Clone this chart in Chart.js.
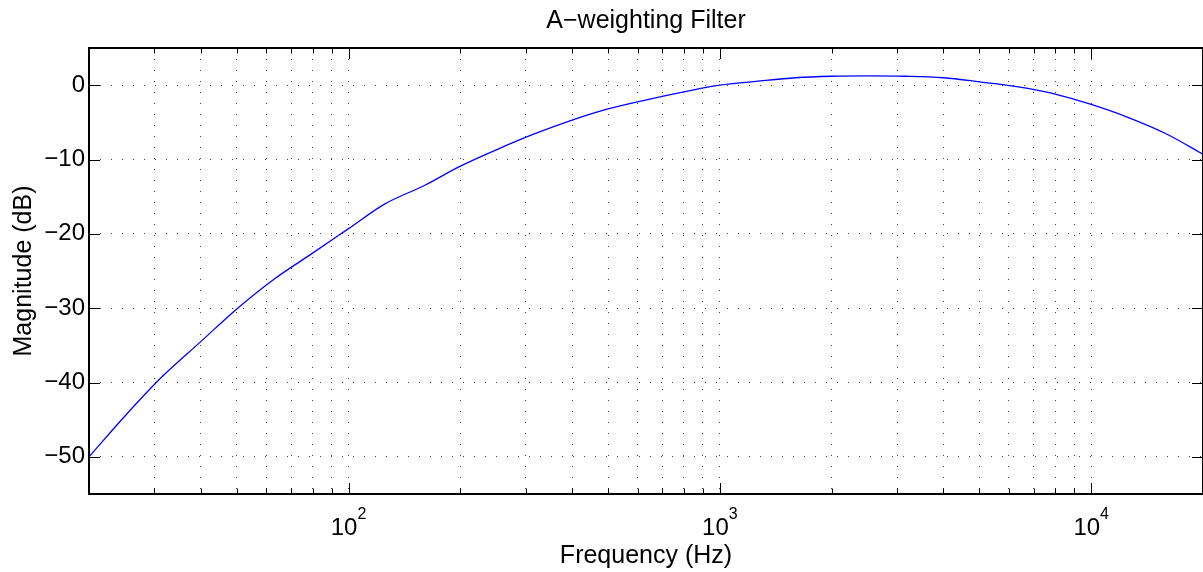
<!DOCTYPE html>
<html>
<head>
<meta charset="utf-8">
<script src="https://cdn.jsdelivr.net/npm/chart.js@4.4.1/dist/chart.umd.min.js"></script>
<style>
  html, body { margin: 0; padding: 0; background: #fff; }
  #wrap { width: 1203px; height: 572px; }
</style>
</head>
<body>
<div id="wrap"><canvas id="aw-chart" width="1203" height="572"></canvas></div>
<script>
// Frequencies (Hz) and magnitude (dB)
const freqs = [20, 25, 31.5, 40, 50, 63, 80, 100, 125, 160, 200, 250, 315, 400, 500, 630, 800,
               1000, 1250, 1600, 2000, 2500, 3150, 4000, 5000, 6300, 8000, 10000, 12500, 16000, 20000];
const magDb = [-50.0, -44.5, -39.2, -34.5, -30.1, -26.1, -22.6, -19.3, -16.0, -13.5, -10.9, -8.7, -6.6, -4.7, -3.2, -2.0, -0.9,
               0.0, 0.5, 1.0, 1.2, 1.25, 1.2, 1.0, 0.45, -0.2, -1.2, -2.6, -4.3, -6.6, -9.3];

// Axis ticks
const yTicks = [0, -10, -20, -30, -40, -50];
const xGridTicks = [20, 30, 40, 50, 60, 70, 80, 90,
                    100, 200, 300, 400, 500, 600, 700, 800, 900,
                    1000, 2000, 3000, 4000, 5000, 6000, 7000, 8000, 9000, 10000];
const xLabelTicks = [100, 1000, 10000];
const xLabelExps = ['2', '3', '4'];

const FONT = "'Liberation Sans', Arial, Helvetica, sans-serif";
Chart.defaults.font.family = FONT;
Chart.defaults.color = '#000';

// Draws the box, the inward tick marks and the 10^n labels (MATLAB look)
const axesBox = {
    id: 'axesBox',
    afterDraw(chart) {
        const ctx = chart.ctx;
        const area = chart.chartArea;
        const xs = chart.scales.x;
        const ys = chart.scales.y;
        ctx.save();

        // inward ticks
        ctx.strokeStyle = '#000';
        ctx.lineWidth = 1;
        ctx.beginPath();
        yTicks.forEach(v => {
            const py = Math.round(ys.getPixelForValue(v)) + 0.5;
            ctx.moveTo(area.left, py); ctx.lineTo(area.left + 11, py);
            ctx.moveTo(area.right, py); ctx.lineTo(area.right - 11, py);
        });
        xGridTicks.forEach(v => {
            if (v === 20) return;
            const px = Math.round(xs.getPixelForValue(v)) + 0.5;
            const len = xLabelTicks.includes(v) ? 11 : 5.5;
            ctx.moveTo(px, area.bottom); ctx.lineTo(px, area.bottom - len);
            ctx.moveTo(px, area.top); ctx.lineTo(px, area.top + len);
        });
        ctx.stroke();

        // axes box
        ctx.lineWidth = 2;
        ctx.strokeRect(area.left, area.top, area.right - area.left, area.bottom - area.top);

        // x tick labels with superscript exponent
        ctx.fillStyle = '#000';
        ctx.textBaseline = 'alphabetic';
        ctx.textAlign = 'left';
        xLabelTicks.forEach((v, i) => {
            const px = xs.getPixelForValue(v);
            ctx.font = '24px ' + FONT;
            const w1 = ctx.measureText('10').width;
            ctx.font = '16px ' + FONT;
            const w2 = ctx.measureText(xLabelExps[i]).width;
            const x0 = px - (w1 + w2) / 2;
            ctx.font = '24px ' + FONT;
            ctx.fillText('10', x0, 535);
            ctx.font = '16px ' + FONT;
            ctx.fillText(xLabelExps[i], x0 + w1, 519);
        });
        ctx.restore();
    }
};

const ctx = document.getElementById('aw-chart').getContext('2d');
const myChart = new Chart(ctx, {
    type: 'line',
    data: {
        datasets: [{
            label: 'A-weighting',
            data: freqs.map((f, i) => ({ x: f, y: magDb[i] })),
            borderColor: '#0000ff',
            borderWidth: 1.3,
            pointRadius: 0,
            fill: false,
            cubicInterpolationMode: 'monotone',
        }],
    },
    options: {
        responsive: false,
        animation: false,
        devicePixelRatio: 1,
        events: [],
        layout: { padding: 0 },
        plugins: {
            legend: { display: false },
            tooltip: { enabled: false },
            title: { display: false },
        },
        scales: {
            x: {
                type: 'logarithmic',
                position: 'bottom',
                min: 20,
                max: 20000,
                afterBuildTicks: s => { s.ticks = xGridTicks.map(v => ({ value: v })); },
                afterFit: s => { s.height = 78; },
                ticks: { autoSkip: false, maxRotation: 0, callback: () => '' },
                grid: { color: '#444', lineWidth: 1, drawTicks: false },
                border: { display: false, dash: [1, 10] },
                title: {
                    display: true,
                    text: 'Frequency (Hz)',
                    font: { size: 25 },
                    padding: { top: 0, bottom: 1 },
                },
            },
            xTop: {
                type: 'linear',
                position: 'top',
                display: true,
                afterFit: s => { s.height = 48; },
                grid: { display: false },
                ticks: { display: false },
                border: { display: false },
                title: {
                    display: true,
                    text: 'A\u2212weighting Filter',
                    font: { size: 25 },
                    padding: { top: 6, bottom: 0 },
                },
            },
            y: {
                type: 'linear',
                min: -55,
                max: 5,
                afterBuildTicks: s => { s.ticks = yTicks.map(v => ({ value: v })); },
                afterFit: s => { s.width = 89; },
                ticks: {
                    font: { size: 24 },
                    padding: 4,
                    callback: v => (v === 0 ? '0' : '\u2212' + Math.abs(v)),
                },
                grid: { color: '#444', lineWidth: 1, drawTicks: false },
                border: { display: false, dash: [1, 10] },
                title: {
                    display: true,
                    text: 'Magnitude (dB)',
                    font: { size: 25 },
                    padding: { top: 9, bottom: 0 },
                },
            },
        },
    },
    plugins: [axesBox],
});
</script>
</body>
</html>
